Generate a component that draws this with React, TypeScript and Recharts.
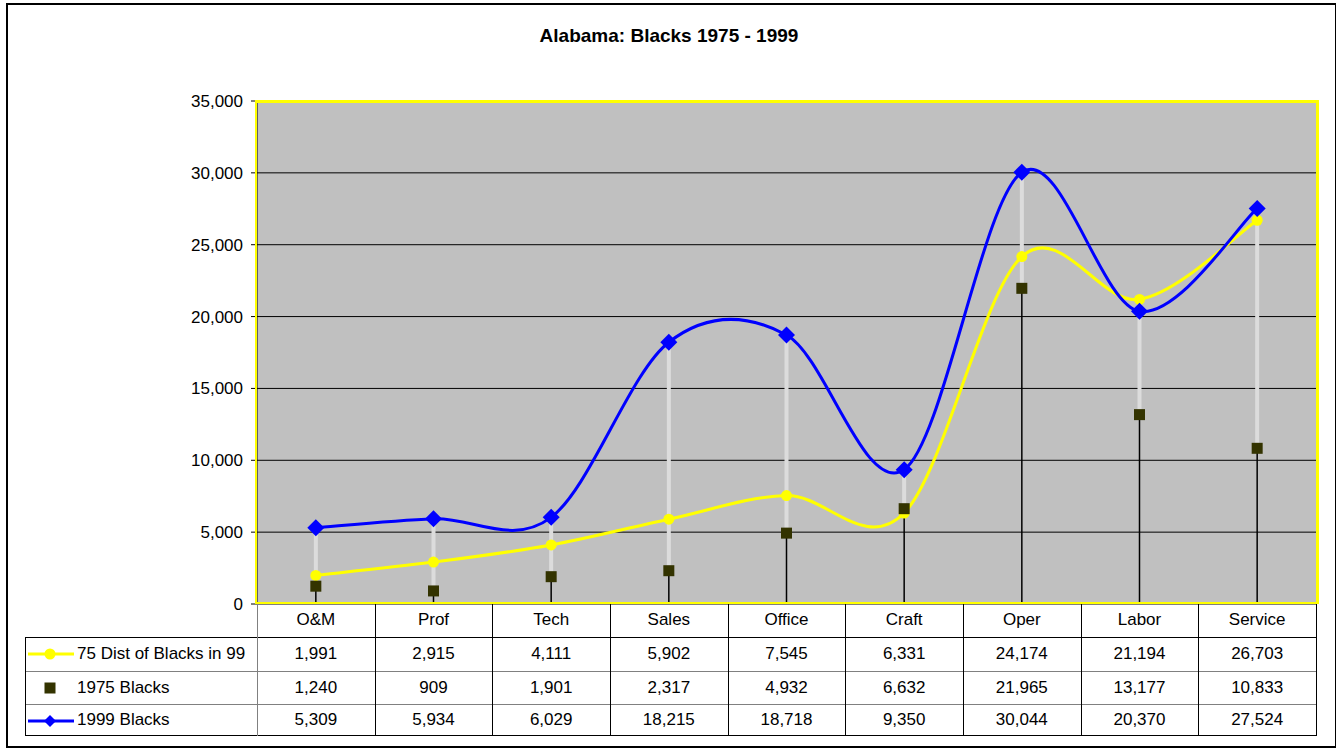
import React from 'react';
import { ComposedChart, Line, XAxis, YAxis, CartesianGrid, ReferenceLine } from 'recharts';

const categories = ['O&M', 'Prof', 'Tech', 'Sales', 'Office', 'Craft', 'Oper', 'Labor', 'Service'];
const dist75 = [1991, 2915, 4111, 5902, 7545, 6331, 24174, 21194, 26703];
const blacks1975 = [1240, 909, 1901, 2317, 4932, 6632, 21965, 13177, 10833];
const blacks1999 = [5309, 5934, 6029, 18215, 18718, 9350, 30044, 20370, 27524];
const yTicks = [0, 5000, 10000, 15000, 20000, 25000, 30000, 35000];

const W = 1336;
const H = 748;
const PLOT = { left: 257, right: 1316, top: 101, bottom: 604 };
const COL_W = (PLOT.right - PLOT.left) / categories.length;
const FONT = '"Liberation Sans", Arial, sans-serif';
const YELLOW = '#FFFF00';

const data = categories.map((cat, i) => ({
  cat,
  dist75: dist75[i],
  b1975: blacks1975[i],
  b1999: blacks1999[i],
}));

const fmt = (v: number) => v.toLocaleString('en-US');

// Excel-like smoothed line (catmull-rom through every point)
function excelSmooth(context: any) {
  let pts: number[][] = [];
  return {
    areaStart() {},
    areaEnd() {},
    lineStart() {
      pts = [];
    },
    point(x: number, y: number) {
      pts.push([+x, +y]);
    },
    lineEnd() {
      if (!pts.length) return;
      context.moveTo(pts[0][0], pts[0][1]);
      for (let i = 0; i < pts.length - 1; i++) {
        const p0 = pts[Math.max(i - 1, 0)];
        const p1 = pts[i];
        const p2 = pts[i + 1];
        const p3 = pts[Math.min(i + 2, pts.length - 1)];
        context.bezierCurveTo(
          p1[0] + (p2[0] - p0[0]) / 6,
          p1[1] + (p2[1] - p0[1]) / 6,
          p2[0] - (p3[0] - p1[0]) / 6,
          p2[1] - (p3[1] - p1[1]) / 6,
          p2[0],
          p2[1]
        );
      }
    },
  };
}

const CircleDot = (p: any) =>
  p.cx == null ? null : <circle key={p.index} cx={p.cx} cy={p.cy} r={5.5} fill={YELLOW} />;

const SquareDot = (p: any) =>
  p.cx == null ? null : (
    <rect key={p.index} x={p.cx - 5.5} y={p.cy - 5.5} width={11} height={11} fill="#333300" />
  );

const DiamondDot = (p: any) =>
  p.cx == null ? null : (
    <polygon
      key={p.index}
      points={`${p.cx},${p.cy - 8.5} ${p.cx + 8.5},${p.cy} ${p.cx},${p.cy + 8.5} ${p.cx - 8.5},${p.cy}`}
      fill="#0000FF"
    />
  );

const tableRows = [
  { name: '75 Dist of Blacks in 99', values: dist75, icon: 'circle' },
  { name: '1975 Blacks', values: blacks1975, icon: 'square' },
  { name: '1999 Blacks', values: blacks1999, icon: 'diamond' },
];

function LegendIcon({ kind }: { kind: string }) {
  return (
    <svg width={46} height={14} style={{ position: 'absolute', left: 3, top: 10 }}>
      {kind === 'circle' && (
        <>
          <line x1={0} y1={7} x2={46} y2={7} stroke={YELLOW} strokeWidth={3} />
          <circle cx={22} cy={7} r={5.5} fill={YELLOW} />
        </>
      )}
      {kind === 'square' && <rect x={16.5} y={1.5} width={11} height={11} fill="#333300" />}
      {kind === 'diamond' && (
        <>
          <line x1={0} y1={7} x2={46} y2={7} stroke="#0000FF" strokeWidth={3} />
          <polygon points="22,1 28,7 22,13 16,7" fill="#0000FF" />
        </>
      )}
    </svg>
  );
}

const HEADER_TOP = PLOT.bottom;
const ROW_TOPS = [637, 671, 704];
const ROW_H = [34, 33, 31];
const TABLE_LEFT = 25;
const TABLE_BOTTOM = 735;

const cell = (left: number, top: number, width: number, height: number, text: string, align = 'center') => (
  <div
    style={{
      position: 'absolute',
      left,
      top,
      width,
      height,
      lineHeight: `${height}px`,
      textAlign: align as any,
      fontSize: 17,
      fontFamily: FONT,
      color: '#000',
      whiteSpace: 'nowrap',
    }}
  >
    {text}
  </div>
);

const box = (left: number, top: number, width: number, height: number, color: string) => (
  <div style={{ position: 'absolute', left, top, width, height, background: color }} />
);
const hLine = (y: number, x1: number, x2: number, color: string) => box(x1, y, x2 - x1 + 1, 1, color);
const vLine = (x: number, y1: number, y2: number, color: string) => box(x, y1, 1, y2 - y1 + 1, color);

export default function App() {
  return (
    <div style={{ position: 'absolute', left: 0, top: 0, width: W, height: H, background: '#fff' }}>
      {/* outer chart frame */}
      <div
        style={{ position: 'absolute', left: 6, top: 3, width: 1327, height: 741, border: '2px solid #000' }}
      />
      <div
        style={{
          position: 'absolute',
          left: 0,
          top: 25,
          width: 1338,
          textAlign: 'center',
          fontFamily: FONT,
          fontWeight: 'bold',
          fontSize: 19,
        }}
      >
        Alabama: Blacks 1975 - 1999
      </div>
      <div style={{ position: 'absolute', left: 0, top: 0 }}>
        <ComposedChart
          width={W}
          height={H}
          data={data}
          margin={{ top: PLOT.top, right: W - PLOT.right, bottom: H - PLOT.bottom, left: 0 }}
        >
          <CartesianGrid vertical={false} stroke="#000" fill="#C0C0C0" fillOpacity={1} />
          <XAxis dataKey="cat" scale="band" height={0} tick={false} tickLine={false} axisLine={{ stroke: '#000' }} />
          <YAxis
            domain={[0, 35000]}
            ticks={yTicks}
            interval={0}
            width={PLOT.left}
            tickSize={6}
            tickMargin={8}
            tickFormatter={fmt}
            tick={{ fill: '#000', fontSize: 17, fontFamily: FONT }}
            axisLine={{ stroke: '#000' }}
            tickLine={{ stroke: '#000' }}
          />
          {data.map((d) => {
            const lo = Math.min(d.dist75, d.b1975, d.b1999);
            const hi = Math.max(d.dist75, d.b1975, d.b1999);
            return (
              <React.Fragment key={d.cat}>
                <ReferenceLine segment={[{ x: d.cat, y: 0 }, { x: d.cat, y: lo }]} stroke="#000" strokeWidth={1.5} />
                <ReferenceLine segment={[{ x: d.cat, y: lo }, { x: d.cat, y: hi }]} stroke="#DCDCDC" strokeWidth={4} />
              </React.Fragment>
            );
          })}
          <Line
            dataKey="dist75"
            type={excelSmooth as any}
            stroke={YELLOW}
            strokeWidth={3}
            dot={CircleDot}
            activeDot={false}
            isAnimationActive={false}
          />
          <Line
            dataKey="b1975"
            stroke="none"
            dot={SquareDot}
            activeDot={false}
            isAnimationActive={false}
          />
          <Line
            dataKey="b1999"
            type={excelSmooth as any}
            stroke="#0000FF"
            strokeWidth={3}
            dot={DiamondDot}
            activeDot={false}
            isAnimationActive={false}
          />
        </ComposedChart>
      </div>

      {/* yellow plot-area border */}
      {box(255, 100, PLOT.right + 3 - 255, 3, YELLOW)}
      {box(PLOT.right, 100, 3, PLOT.bottom - 100, YELLOW)}
      {box(255, 100, 2, PLOT.bottom - 100, YELLOW)}
      {box(PLOT.left, PLOT.bottom - 2, PLOT.right - PLOT.left, 2, YELLOW)}

      {/* data table under the plot */}
      {categories.map((c, i) => (
        <React.Fragment key={c}>{cell(PLOT.left + i * COL_W, HEADER_TOP, COL_W, 32, c)}</React.Fragment>
      ))}
      {tableRows.map((r, ri) => (
        <React.Fragment key={r.name}>
          <div style={{ position: 'absolute', left: TABLE_LEFT, top: ROW_TOPS[ri], width: 232, height: ROW_H[ri] }}>
            <LegendIcon kind={r.icon} />
          </div>
          {cell(77, ROW_TOPS[ri], 180, ROW_H[ri], r.name, 'left')}
          {r.values.map((v, i) => (
            <React.Fragment key={i}>{cell(PLOT.left + i * COL_W, ROW_TOPS[ri], COL_W, ROW_H[ri], fmt(v))}</React.Fragment>
          ))}
        </React.Fragment>
      ))}
      {hLine(ROW_TOPS[0], TABLE_LEFT, PLOT.right, '#000')}
      {hLine(ROW_TOPS[1], TABLE_LEFT, PLOT.right, '#808080')}
      {hLine(ROW_TOPS[2], TABLE_LEFT, PLOT.right, '#808080')}
      {hLine(TABLE_BOTTOM, TABLE_LEFT, PLOT.right, '#000')}
      {vLine(TABLE_LEFT, ROW_TOPS[0], TABLE_BOTTOM, '#000')}
      {vLine(PLOT.left, HEADER_TOP, TABLE_BOTTOM, '#808080')}
      {categories.map((c, i) => (
        <React.Fragment key={c}>{vLine(PLOT.left + (i + 1) * COL_W, HEADER_TOP, TABLE_BOTTOM, '#000')}</React.Fragment>
      ))}
    </div>
  );
}
